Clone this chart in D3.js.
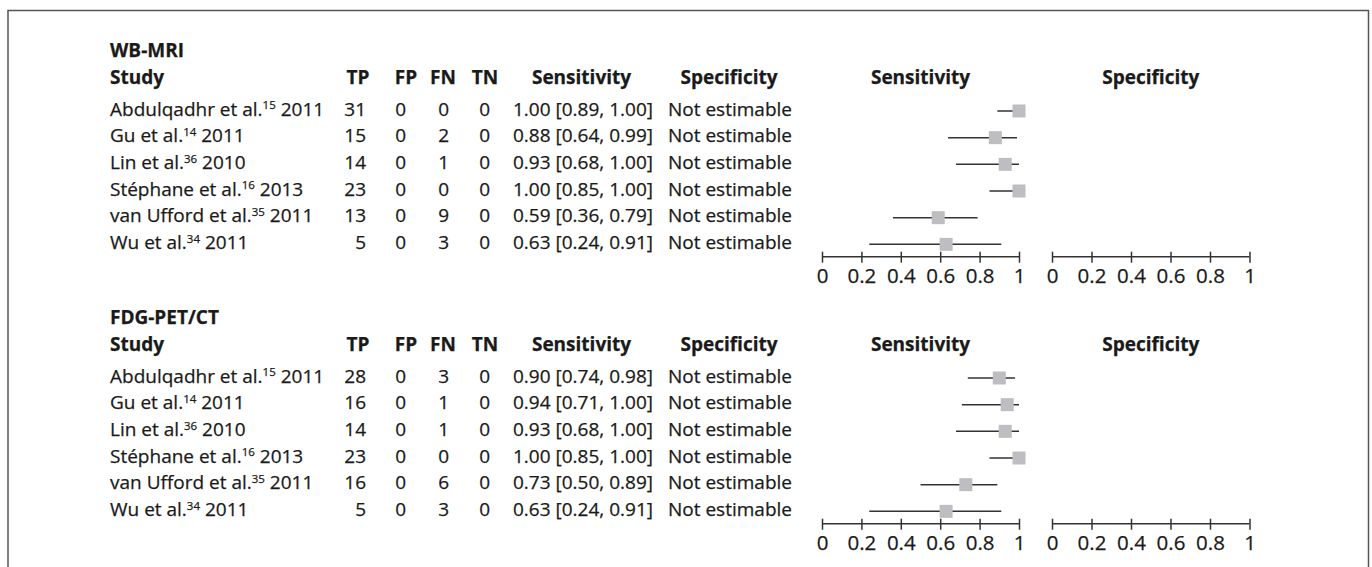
<!DOCTYPE html>
<html><head><meta charset="utf-8">
<script src="https://cdn.jsdelivr.net/npm/d3@7"></script>
<style>
html,body{margin:0;padding:0;background:#fff;}
svg text{font-family:"Open Sans",sans-serif;fill:#1a1a1a;stroke:#1a1a1a;stroke-width:0.25px;}
</style></head>
<body><svg id="c" width="1372" height="567"></svg>
<script>
// ---- data ----
const studyNames = ["Abdulqadhr et al.", "Gu et al.", "Lin et al.", "Stéphane et al.", "van Ufford et al.", "Wu et al."];
const studyRefs  = ["15", "14", "36", "16", "35", "34"];
const studyYears = ["2011", "2011", "2010", "2013", "2011", "2011"];

const groups = ["WB-MRI", "FDG-PET/CT"];

const mriTP = [31, 15, 14, 23, 13, 5];
const mriFP = [0, 0, 0, 0, 0, 0];
const mriFN = [0, 2, 1, 0, 9, 3];
const mriTN = [0, 0, 0, 0, 0, 0];
const mriSens = [1.00, 0.88, 0.93, 1.00, 0.59, 0.63];
const mriLo   = [0.89, 0.64, 0.68, 0.85, 0.36, 0.24];
const mriHi   = [1.00, 0.99, 1.00, 1.00, 0.79, 0.91];

const petTP = [28, 16, 14, 23, 16, 5];
const petFP = [0, 0, 0, 0, 0, 0];
const petFN = [3, 1, 1, 0, 6, 3];
const petTN = [0, 0, 0, 0, 0, 0];
const petSens = [0.90, 0.94, 0.93, 1.00, 0.73, 0.63];
const petLo   = [0.74, 0.71, 0.68, 0.85, 0.50, 0.24];
const petHi   = [0.98, 1.00, 1.00, 1.00, 0.89, 0.91];

const specText = "Not estimable";
const axisTicks = [0, 0.2, 0.4, 0.6, 0.8, 1];
const tickLabels = ["0", "0.2", "0.4", "0.6", "0.8", "1"];

// ---- build ----
const svg = d3.select("#c");
const FS = 19;

// frame
svg.append("path")
  .attr("d", "M8,580 L8,10.5 L1368.5,10.5 L1368.5,580")
  .attr("fill", "none").attr("stroke", "#555").attr("stroke-width", 1.5);

const sx = d3.scaleLinear().domain([0, 1]).range([822, 1019]);
const px = d3.scaleLinear().domain([0, 1]).range([1052, 1249.5]);

const sections = [
  {name: groups[0], TP: mriTP, FP: mriFP, FN: mriFN, TN: mriTN, s: mriSens, lo: mriLo, hi: mriHi},
  {name: groups[1], TP: petTP, FP: petFP, FN: petFN, TN: petTN, s: petSens, lo: petLo, hi: petHi}
];

const fmt = d3.format(".2f");
const rowStep = 26.67;

sections.forEach((sec, si) => {
  const off = si * 267;
  const g = svg.append("g").attr("transform", `translate(0,${off})`);
  const rowY = d3.scaleLinear().domain([0, 1]).range([111, 111 + rowStep]);

  g.append("text").attr("x", 110).attr("y", 57).attr("font-weight", "bold")
    .attr("font-size", FS).text(sec.name);

  // headers
  const hy = 83.5;
  const headers = [
    {t: "Study", x: 110, a: "start"},
    {t: "TP", x: 358, a: "middle"},
    {t: "FP", x: 406, a: "middle"},
    {t: "FN", x: 443, a: "middle"},
    {t: "TN", x: 485, a: "middle"},
    {t: "Sensitivity", x: 581.5, a: "middle"},
    {t: "Specificity", x: 729, a: "middle"},
    {t: "Sensitivity", x: (sx(0) + sx(1)) / 2, a: "middle"},
    {t: "Specificity", x: (px(0) + px(1)) / 2, a: "middle"}
  ];
  g.selectAll("text.h").data(headers).join("text").attr("class", "h")
    .attr("x", d => d.x).attr("y", hy).attr("text-anchor", d => d.a)
    .attr("font-weight", "bold").attr("font-size", FS).text(d => d.t);

  const idx = d3.range(studyNames.length);
  idx.forEach(i => {
    const y = rowY(i) + 4.7;
    const t = g.append("text").attr("x", 110).attr("y", y).attr("font-size", FS);
    t.append("tspan").text(studyNames[i]);
    t.append("tspan").attr("font-size", 11.5).attr("dy", -6.5).text(studyRefs[i]);
    t.append("tspan").attr("dy", 6.5).text(" " + studyYears[i]);

    const nums = [
      {v: sec.TP[i], x: 366},
      {v: sec.FP[i], x: 406},
      {v: sec.FN[i], x: 449},
      {v: sec.TN[i], x: 490}
    ];
    nums.forEach(n => {
      g.append("text").attr("x", n.x).attr("y", y).attr("text-anchor", "end")
        .attr("font-size", FS).text(n.v);
    });
    g.append("text").attr("x", 513).attr("y", y).attr("font-size", FS)
      .text(`${fmt(sec.s[i])} [${fmt(sec.lo[i])}, ${fmt(sec.hi[i])}]`);
    g.append("text").attr("x", 668).attr("y", y).attr("font-size", FS).text(specText);
  });

  // CI lines
  g.selectAll("line.ci").data(idx).join("line").attr("class", "ci")
    .attr("x1", i => sx(sec.lo[i])).attr("x2", i => sx(sec.hi[i]))
    .attr("y1", i => rowY(i)).attr("y2", i => rowY(i))
    .attr("stroke", "#333").attr("stroke-width", 1.5);
  // boxes
  const bs = 13;
  g.selectAll("rect.pt").data(idx).join("rect").attr("class", "pt")
    .attr("x", i => sx(sec.s[i]) - bs / 2).attr("y", i => rowY(i) - bs / 2)
    .attr("width", bs).attr("height", bs).attr("fill", "#bebec2");

  // axes
  const ay = 256.7;
  [sx, px].forEach(scale => {
    const ax = g.append("g").attr("transform", `translate(0,${ay})`)
      .call(d3.axisBottom(scale).tickValues(axisTicks).tickSizeOuter(0)
        .tickFormat((d, k) => tickLabels[k]));
    ax.select(".domain").attr("stroke", "#333").attr("stroke-width", 1.5)
      .attr("d", `M${scale(0)},0H${scale(1)}`);
    ax.selectAll(".tick line").attr("stroke", "#333").attr("stroke-width", 1.5)
      .attr("y1", -5).attr("y2", 6);
    ax.selectAll(".tick text").attr("y", 26.8).attr("dy", 0)
      .attr("font-size", 20.5).attr("font-family", "Open Sans");
  });
});
</script></body></html>
